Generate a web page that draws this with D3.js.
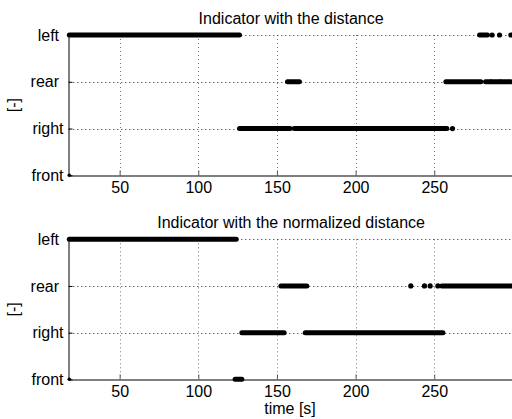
<!DOCTYPE html>
<html>
<head>
<meta charset="utf-8">
<script src="https://cdn.jsdelivr.net/npm/d3@7"></script>
<style>
  html, body { margin: 0; padding: 0; background: #fff; }
  svg text { font-family: "Liberation Sans", Arial, sans-serif; fill: #000; }
</style>
</head>
<body>
<svg id="chart" width="512" height="419"></svg>
<script>
// Indicator categories, bottom to top (value 0..3)
const categories = ["front", "right", "rear", "left"];
const xTicks = [50, 100, 150, 200, 250];
const xDomain = [18, 300];

// Runs of consecutive samples for each indicator: [category, start time, end time]
// A run with start == end is a single isolated sample.
const distanceRuns = [
  ["front", 18, 18],
  ["left", 18, 126.2],
  ["right", 126.2, 158.4],
  ["rear", 156.7, 164.3],
  ["right", 161, 258],
  ["right", 261.6, 261.6],
  ["rear", 257.4, 279.6],
  ["rear", 282.6, 285.8],
  ["rear", 286.4, 291.8],
  ["rear", 292.4, 298.7],
  ["left", 278.8, 283.8],
  ["left", 286.8, 286.8],
  ["left", 291.5, 291.5],
  ["left", 298.7, 298.7]
];

const normalizedRuns = [
  ["front", 18, 18],
  ["left", 18, 124.1],
  ["front", 123.4, 127.7],
  ["right", 127.7, 154.6],
  ["rear", 152.5, 169],
  ["right", 168, 255.5],
  ["rear", 235.1, 235.1],
  ["rear", 243.8, 243.8],
  ["rear", 247.4, 247.4],
  ["rear", 252.3, 252.3],
  ["rear", 254.8, 300]
];

const titles = ["Indicator with the distance", "Indicator with the normalized distance"];
const yLabel = "[-]";
const xLabel = "time [s]";

const svg = d3.select("#chart");
const x = d3.scaleLinear().domain(xDomain).range([69.3, 512.9]);

const panels = [
  { runs: distanceRuns, title: titles[0], top: 35, bottom: 175.3 },
  { runs: normalizedRuns, title: titles[1], top: 239.3, bottom: 379.3 }
];

panels.forEach(p => {
  const y = d3.scaleLinear().domain([0, categories.length - 1]).range([p.bottom, p.top]);
  const g = svg.append("g");
  const [x0, x1] = x.range();

  // dotted grid
  g.append("g").selectAll("line").data(xTicks).join("line")
    .attr("x1", d => Math.round(x(d)) + 0.5).attr("x2", d => Math.round(x(d)) + 0.5)
    .attr("y1", p.top).attr("y2", p.bottom)
    .attr("stroke", "#777").attr("stroke-width", 1).attr("stroke-dasharray", "1,3");
  g.append("g").selectAll("line").data([1, 2, 3]).join("line")
    .attr("x1", x0).attr("x2", x1)
    .attr("y1", d => Math.round(y(d)) + 0.5).attr("y2", d => Math.round(y(d)) + 0.5)
    .attr("stroke", "#222").attr("stroke-width", 1).attr("stroke-dasharray", "1,3");

  // x axis
  const xa = g.append("g")
    .attr("transform", `translate(0,${Math.round(p.bottom) + 0.5})`)
    .call(d3.axisBottom(x).tickValues(xTicks).tickSizeInner(-5).tickSizeOuter(0).tickPadding(6));
  xa.select(".domain").attr("stroke", "#000");
  xa.selectAll(".tick line").attr("stroke", "#555");
  xa.selectAll("text").style("font-size", "16px").attr("fill", "#000");

  // y axis with category labels, padded to equal length
  const ya = g.append("g")
    .attr("transform", `translate(${Math.round(x0) - 0.5},0)`)
    .call(d3.axisLeft(y).tickValues([0, 1, 2, 3])
      .tickFormat(i => categories[i].padEnd(5, "\u00a0"))
      .tickSizeInner(-4).tickSizeOuter(0).tickPadding(5));
  ya.select(".domain").attr("stroke", "#000");
  ya.selectAll(".tick line").attr("stroke", "#000");
  ya.selectAll("text").style("font-size", "16px").attr("fill", "#000");

  // indicator samples
  const catY = c => y(categories.indexOf(c));
  const runs = p.runs.filter(r => r[2] > r[1]);
  const pts = p.runs.filter(r => r[2] === r[1]);
  g.append("g").selectAll("line").data(runs).join("line")
    .attr("x1", r => x(r[1])).attr("x2", r => x(r[2]))
    .attr("y1", r => catY(r[0])).attr("y2", r => catY(r[0]))
    .attr("stroke", "#000").attr("stroke-width", 5).attr("stroke-linecap", "round");
  g.append("g").selectAll("circle").data(pts).join("circle")
    .attr("cx", r => x(r[1])).attr("cy", r => catY(r[0]))
    .attr("r", r => r[0] === "front" ? 1.8 : 2.6).attr("fill", "#000");

  // title and y label
  g.append("text").attr("x", (x0 + x1) / 2).attr("y", p.top - 11)
    .attr("text-anchor", "middle").style("font-size", "16px").text(p.title);
  g.append("text")
    .attr("transform", `translate(19,${(p.top + p.bottom) / 2}) rotate(-90)`)
    .attr("text-anchor", "middle").style("font-size", "16px").text(yLabel);
});

svg.append("text").attr("x", 290).attr("y", 414)
  .attr("text-anchor", "middle").style("font-size", "16px").text(xLabel);
</script>
</body>
</html>
